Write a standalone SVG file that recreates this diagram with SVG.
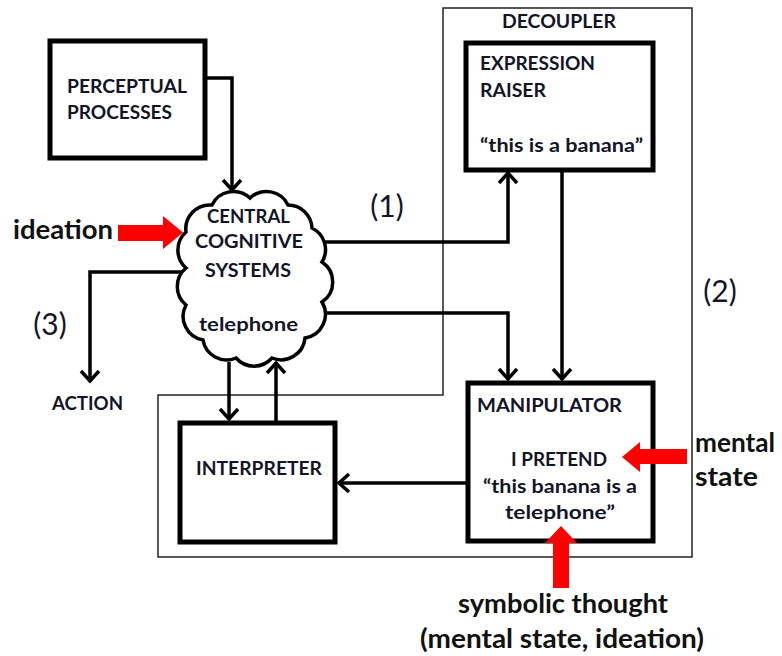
<svg xmlns="http://www.w3.org/2000/svg" width="782" height="656" viewBox="0 0 782 656">
  <defs>
    <marker id="arrow" markerUnits="userSpaceOnUse" markerWidth="26" markerHeight="26" viewBox="-13 -13 26 26" refX="0" refY="0" orient="auto">
      <path d="M-11,-9 L-1,0 L-11,9" fill="none" stroke="#000" stroke-width="3.5" stroke-linejoin="miter"/>
    </marker>
  </defs>
  <style>
    .box { fill: #fff; stroke: #000; stroke-width: 5; }
    .frame { fill: none; stroke: #222; stroke-width: 1.5; }
    .link { fill: none; stroke: #000; stroke-width: 3.5; marker-end: url(#arrow); }
    .cue { fill: #f00; stroke: none; }
    .t { font-family: Lato, "Liberation Sans", sans-serif; font-weight: bold; font-size: 19px; fill: #141428; }
    .big { font-family: Lato, "Liberation Sans", sans-serif; font-weight: bold; font-size: 26px; fill: #111; }
    .num { font-family: Lato, "Liberation Sans", sans-serif; font-size: 30px; fill: #141428; }
    .mid { text-anchor: middle; }
  </style>
  <rect width="782" height="656" fill="#fff"/>

  <!-- decoupler frame -->
  <g id="decoupler">
    <path class="frame" d="M443,8 H692 V557 H158 V395 H443 Z"/>
    <text class="t" x="502" y="28" textLength="114" lengthAdjust="spacingAndGlyphs">DECOUPLER</text>
  </g>

  <!-- connectors -->
  <g id="connectors">
    <path class="link" d="M205,78 H232 V191"/>
    <path class="link" d="M324,242 H508 V172"/>
    <path class="link" d="M326,313 H508 V380"/>
    <path class="link" d="M562,170 V380"/>
    <path class="link" d="M183,272 H90 V382"/>
    <path class="link" d="M229,362 V420"/>
    <path class="link" d="M276,421 V362"/>
    <path class="link" d="M466,483 H338"/>
  </g>

  <g id="perceptual">
    <rect class="box" x="50" y="41" width="155" height="117"/>
    <text class="t" x="67" y="93" textLength="120" lengthAdjust="spacingAndGlyphs">PERCEPTUAL</text>
    <text class="t" x="67" y="119" textLength="105" lengthAdjust="spacingAndGlyphs">PROCESSES</text>
  </g>

  <g id="central">
    <!-- scalloped cloud outline -->
    <path fill="#fff" stroke="#000" stroke-width="3.5" d="M322,262 A24,24 0 0 1 322,302 A24,24 0 0 1 305,338 A24,24 0 0 1 272,358 A24,24 0 0 1 236,358 A24,24 0 0 1 203,340 A24,24 0 0 1 186,305 A24,24 0 0 1 186,268 A24,24 0 0 1 186,232 A24,24 0 0 1 212,205 A24,24 0 0 1 250,198 A24,24 0 0 1 288,205 A24,24 0 0 1 312,228 A24,24 0 0 1 322,262 Z"/>
    <text class="t" x="207" y="223" textLength="83" lengthAdjust="spacingAndGlyphs">CENTRAL</text>
    <text class="t" x="195" y="248" textLength="108" lengthAdjust="spacingAndGlyphs">COGNITIVE</text>
    <text class="t" x="205" y="277" textLength="86" lengthAdjust="spacingAndGlyphs">SYSTEMS</text>
    <text class="t" x="199" y="331" textLength="99" lengthAdjust="spacingAndGlyphs">telephone</text>
  </g>

  <g id="expression-raiser">
    <rect class="box" x="466" y="43" width="187" height="127"/>
    <text class="t" x="480" y="70" textLength="115" lengthAdjust="spacingAndGlyphs">EXPRESSION</text>
    <text class="t" x="480" y="97" textLength="66" lengthAdjust="spacingAndGlyphs">RAISER</text>
    <text class="t" x="480" y="152" textLength="163" lengthAdjust="spacingAndGlyphs">“this is a banana”</text>
  </g>

  <g id="manipulator">
    <rect class="box" x="468" y="383" width="185" height="158"/>
    <text class="t" x="477" y="412" textLength="145" lengthAdjust="spacingAndGlyphs">MANIPULATOR</text>
    <text class="t" x="511" y="466" textLength="96" lengthAdjust="spacingAndGlyphs">I PRETEND</text>
    <text class="t" x="483" y="493" textLength="154" lengthAdjust="spacingAndGlyphs">“this banana is a</text>
    <text class="t" x="505" y="519" textLength="110" lengthAdjust="spacingAndGlyphs">telephone”</text>
  </g>

  <g id="interpreter">
    <rect class="box" x="180" y="423" width="155" height="119"/>
    <text class="t" x="196" y="475" textLength="126" lengthAdjust="spacingAndGlyphs">INTERPRETER</text>
  </g>

  <g id="action">
    <text class="t" x="52" y="410" textLength="71" lengthAdjust="spacingAndGlyphs">ACTION</text>
  </g>

  <g id="labels">
    <text class="num mid" x="387" y="217">(1)</text>
    <text class="num mid" x="720" y="302">(2)</text>
    <text class="num mid" x="50" y="335">(3)</text>
  </g>

  <g id="ideation">
    <polygon class="cue" points="118,225 163,225 163,216 183,232.5 163,249 163,241 118,241"/>
    <text class="big" x="13" y="239" textLength="100" lengthAdjust="spacingAndGlyphs">ideation</text>
  </g>

  <g id="mental-state">
    <polygon class="cue" points="687,449 640,449 640,442 622,457 640,472 640,464 687,464"/>
    <text class="big" x="695" y="452" textLength="80" lengthAdjust="spacingAndGlyphs">mental</text>
    <text class="big" x="695" y="486" textLength="63" lengthAdjust="spacingAndGlyphs">state</text>
  </g>

  <g id="symbolic-thought">
    <polygon class="cue" points="553,588 553,543 545,543 561,526 577,543 569,543 569,588"/>
    <text class="big" x="458" y="613" textLength="210" lengthAdjust="spacingAndGlyphs">symbolic thought</text>
    <text class="big" x="420" y="648" textLength="284" lengthAdjust="spacingAndGlyphs">(mental state, ideation)</text>
  </g>
</svg>
